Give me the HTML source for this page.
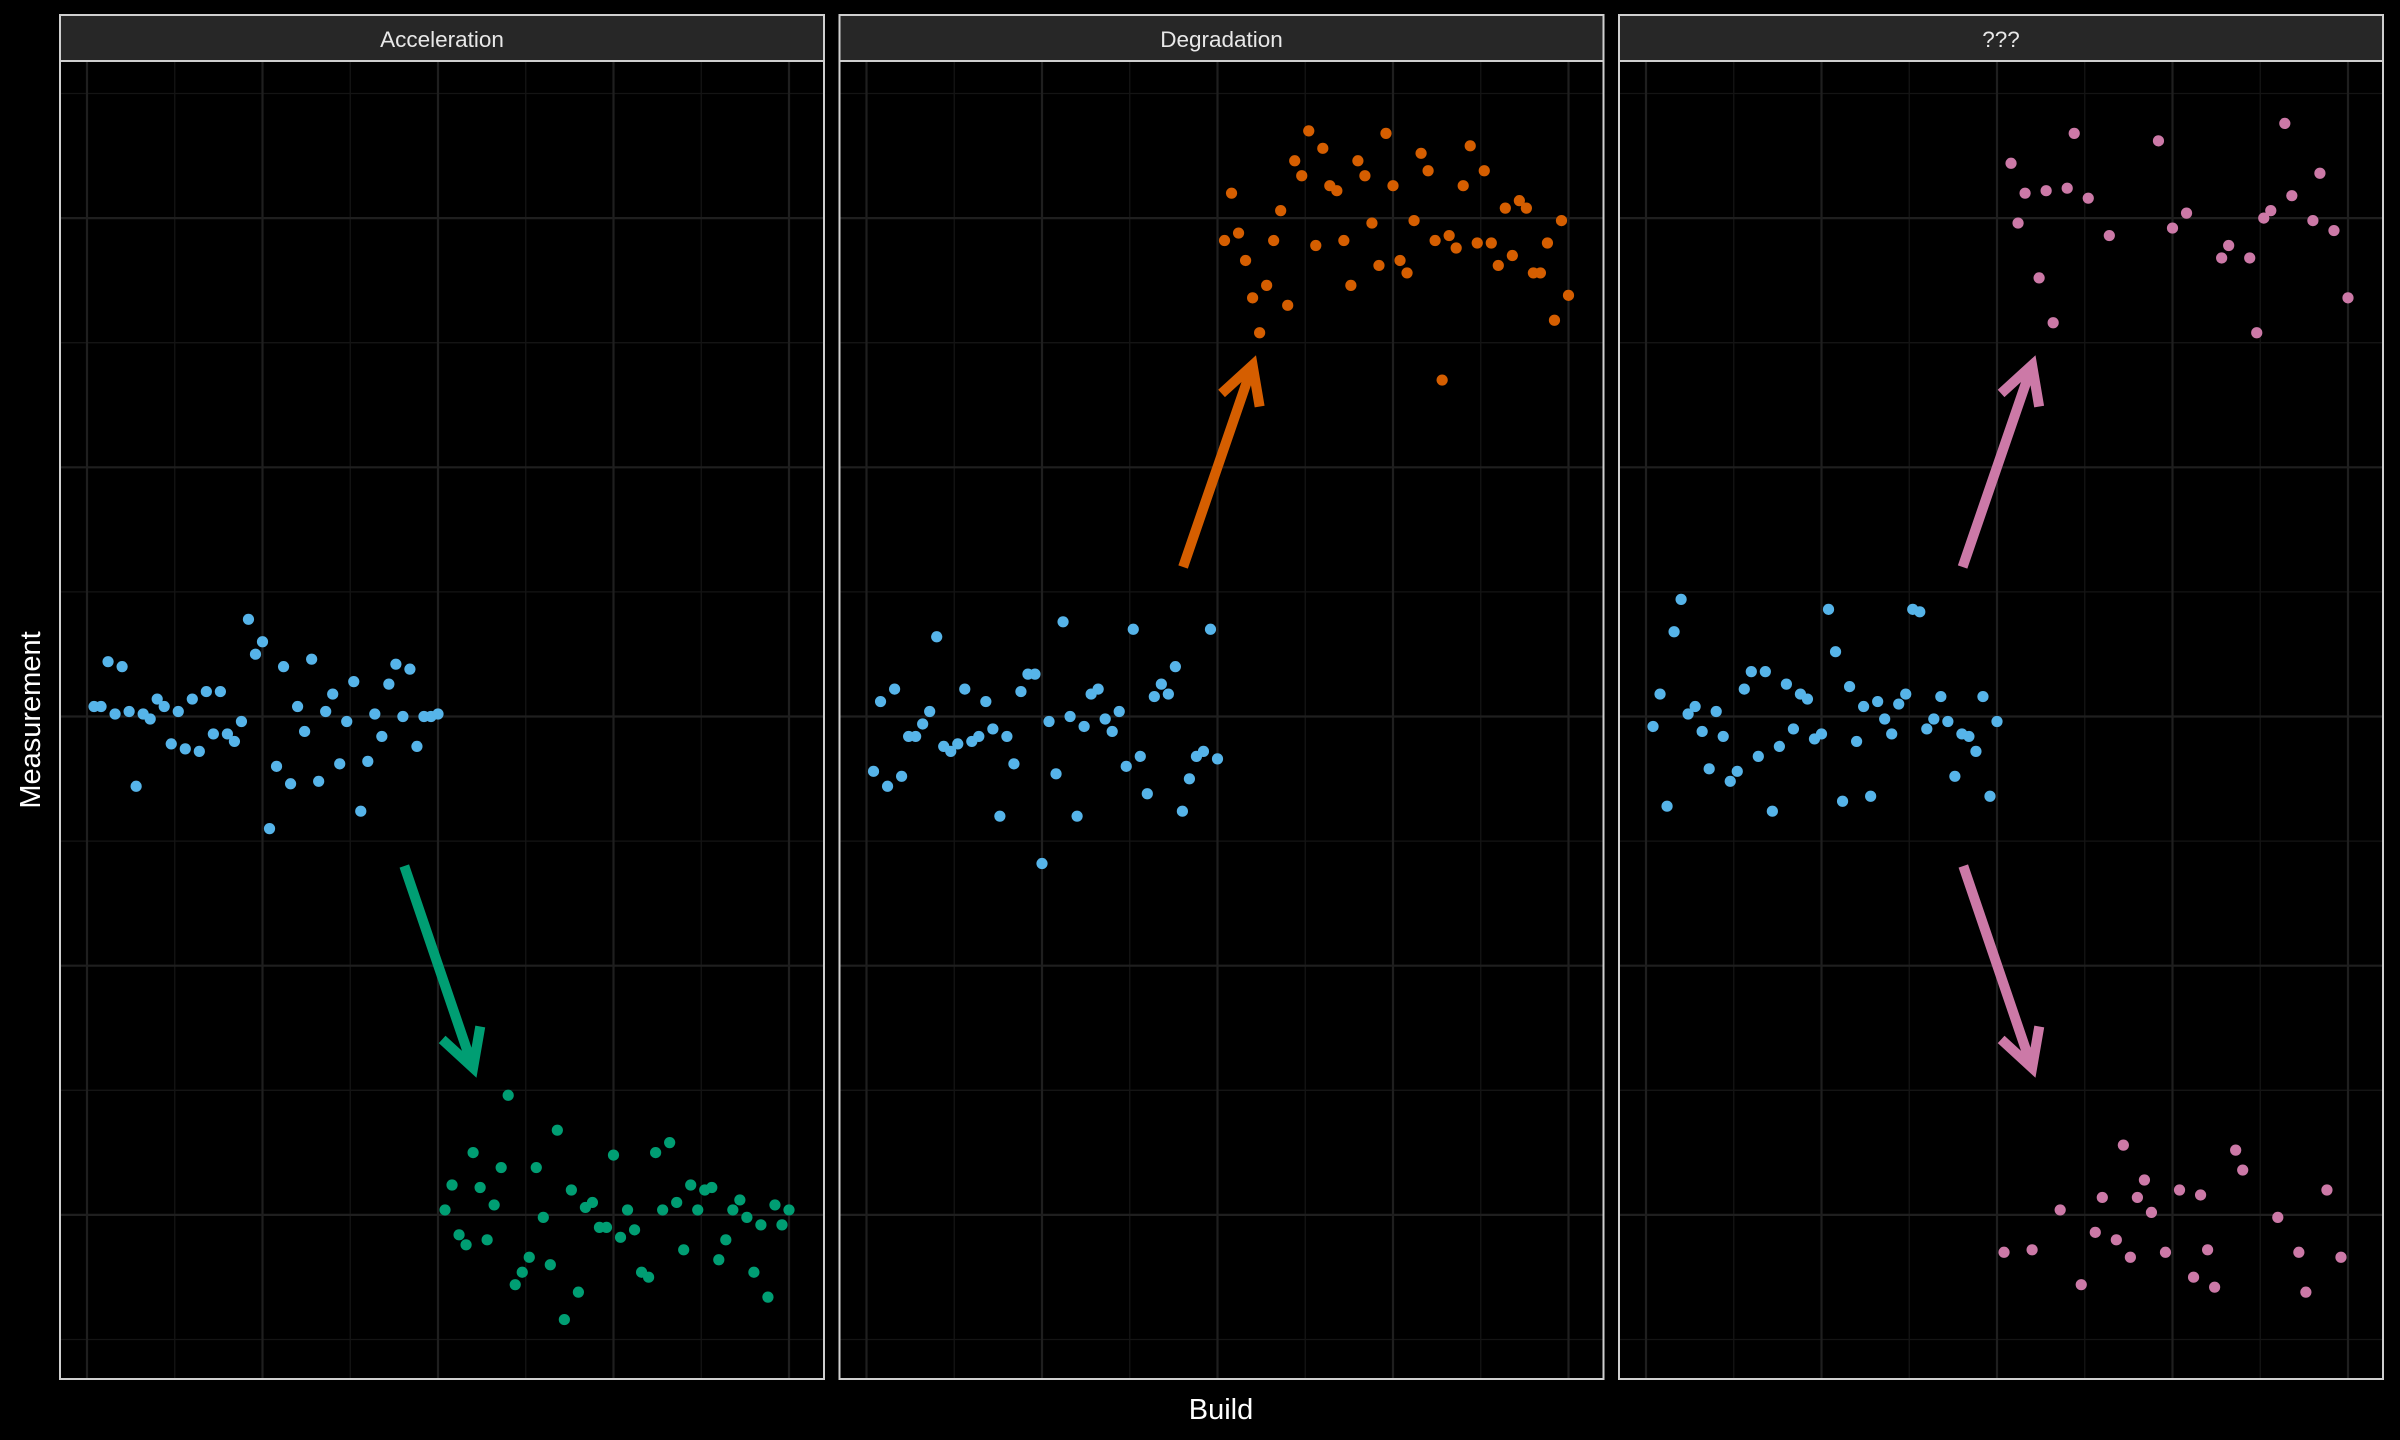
<!DOCTYPE html>
<html><head><meta charset="utf-8"><style>
html,body{margin:0;padding:0;background:#000;}
svg{display:block;}
text{font-family:"Liberation Sans",sans-serif;}
</style></head><body>
<svg id="chart" width="2400" height="1440" viewBox="0 0 2400 1440">
<rect x="0" y="0" width="2400" height="1440" fill="#000"/>
<text x="40" y="720" fill="#fff" font-size="29" text-anchor="middle" transform="rotate(-90 40 720)">Measurement</text>
<text x="1221" y="1419" fill="#fff" font-size="29" text-anchor="middle">Build</text>
</svg>
<script>
const panelTitles = ["Acceleration", "Degradation", "???"];
const blueAccel = [0.04,0.04,0.22,0.01,0.20,0.02,-0.28,0.01,-0.01,0.07,0.04,-0.11,0.02,-0.13,0.07,-0.14,0.10,-0.07,0.10,-0.07,-0.10,-0.02,0.39,0.25,0.30,-0.45,-0.20,0.20,-0.27,0.04,-0.06,0.23,-0.26,0.02,0.09,-0.19,-0.02,0.14,-0.38,-0.18,0.01,-0.08,0.13,0.21,0.00,0.19,-0.12,0.00,0.00,0.01];
const greenAccel = [-1.98,-1.88,-2.08,-2.12,-1.75,-1.89,-2.10,-1.96,-1.81,-1.52,-2.28,-2.23,-2.17,-1.81,-2.01,-2.20,-1.66,-2.42,-1.90,-2.31,-1.97,-1.95,-2.05,-2.05,-1.76,-2.09,-1.98,-2.06,-2.23,-2.25,-1.75,-1.98,-1.71,-1.95,-2.14,-1.88,-1.98,-1.90,-1.89,-2.18,-2.10,-1.98,-1.94,-2.01,-2.23,-2.04,-2.33,-1.96,-2.04,-1.98];
const blueDegr = [-0.22,0.06,-0.28,0.11,-0.24,-0.08,-0.08,-0.03,0.02,0.32,-0.12,-0.14,-0.11,0.11,-0.10,-0.08,0.06,-0.05,-0.40,-0.08,-0.19,0.10,0.17,0.17,-0.59,-0.02,-0.23,0.38,0.00,-0.40,-0.04,0.09,0.11,-0.01,-0.06,0.02,-0.20,0.35,-0.16,-0.31,0.08,0.13,0.09,0.20,-0.38,-0.25,-0.16,-0.14,0.35,-0.17];
const orangeDegr = [1.91,2.10,1.94,1.83,1.68,1.54,1.73,1.91,2.03,1.65,2.23,2.17,2.35,1.89,2.28,2.13,2.11,1.91,1.73,2.23,2.17,1.98,1.81,2.34,2.13,1.83,1.78,1.99,2.26,2.19,1.91,1.35,1.93,1.88,2.13,2.29,1.90,2.19,1.90,1.81,2.04,1.85,2.07,2.04,1.78,1.78,1.90,1.59,1.99,1.69];
const blueUnk = [-0.04,0.09,-0.36,0.34,0.47,0.01,0.04,-0.06,-0.21,0.02,-0.08,-0.26,-0.22,0.11,0.18,-0.16,0.18,-0.38,-0.12,0.13,-0.05,0.09,0.07,-0.09,-0.07,0.43,0.26,-0.34,0.12,-0.10,0.04,-0.32,0.06,-0.01,-0.07,0.05,0.09,0.43,0.42,-0.05,-0.01,0.08,-0.02,-0.24,-0.07,-0.08,-0.14,0.08,-0.32,-0.02];
const pinkUpBuilds = [52,53,54,56,57,58,60,61,63,66,73,75,77,82,83,86,87,88,89,91,92,95,96,98,100];
const pinkUpValues = [2.22,1.98,2.10,1.76,2.11,1.58,2.12,2.34,2.08,1.93,2.31,1.96,2.02,1.84,1.89,1.84,1.54,2.00,2.03,2.38,2.09,1.99,2.18,1.95,1.68];
const pinkDownBuilds = [51,55,59,62,64,65,67,68,69,70,71,72,74,76,78,79,80,81,84,85,90,93,94,97,99];
const pinkDownValues = [-2.15,-2.14,-1.98,-2.28,-2.07,-1.93,-2.10,-1.72,-2.17,-1.93,-1.86,-1.99,-2.15,-1.90,-2.25,-1.92,-2.14,-2.29,-1.74,-1.82,-2.01,-2.15,-2.31,-1.90,-2.17];

const NS = "http://www.w3.org/2000/svg";
const svg = document.getElementById("chart");
const panelLeft = [60, 839.5, 1619];
const panelW = 764, plotTop = 61, plotBot = 1379, stripTop = 15;
function xScale(p, b) { return panelLeft[p] + 27 + b * 7.02; }
function yScale(v) { return 716.5 - v * 249.2; }
function mk(tag, attrs, parent) {
  const el = document.createElementNS(NS, tag);
  for (const k in attrs) el.setAttribute(k, attrs[k]);
  (parent || svg).appendChild(el);
  return el;
}
function seq(n, start) { const a = []; for (let i = 0; i < n; i++) a.push(start + i); return a; }

const colors = { blue: "#56B4E9", green: "#009E73", orange: "#D55E00", pink: "#CC79A7" };

function drawPanel(p) {
  const g = mk("g", {});
  
  
  const L = panelLeft[p];
  // minor grid
  [-2.5, -1.5, -0.5, 0.5, 1.5, 2.5].forEach(v => {
    const l = mk("line", { x1: L, x2: L + panelW, y1: yScale(v), y2: yScale(v), stroke: "#141414", "stroke-width": 1.3 }, g);
    
    
  });
  [12.5, 37.5, 62.5, 87.5].forEach(b => {
    const l = mk("line", { x1: xScale(p, b), x2: xScale(p, b), y1: plotTop, y2: plotBot, stroke: "#141414", "stroke-width": 1.3 }, g);
    
    
  });
  [-2, -1, 0, 1, 2].forEach(v => {
    const l = mk("line", { x1: L, x2: L + panelW, y1: yScale(v), y2: yScale(v), stroke: "#1f1f1f", "stroke-width": 2.2 }, g);
    
    
  });
  [0, 25, 50, 75, 100].forEach(b => {
    const l = mk("line", { x1: xScale(p, b), x2: xScale(p, b), y1: plotTop, y2: plotBot, stroke: "#1f1f1f", "stroke-width": 2.2 }, g);
    
    
  });
  const border = mk("rect", { x: L, y: plotTop, width: panelW, height: plotBot - plotTop, fill: "none", stroke: "#cfcfcf", "stroke-width": 2 }, g);
  
  
  const strip = mk("rect", { x: L, y: stripTop, width: panelW, height: plotTop - stripTop, fill: "#272727", stroke: "#cfcfcf", "stroke-width": 2 }, g);
  
  
  const t = mk("text", { x: L + panelW / 2, y: 47, fill: "#e8e8e8", "font-size": 22.5, "text-anchor": "middle" }, g);
  t.textContent = panelTitles[p];
  
  
  return g;
}
function drawPoints(p, builds, vals, color, name) {
  builds.forEach((b, i) => {
    const c = mk("circle", { cx: xScale(p, b), cy: yScale(vals[i]), r: 5.6, fill: color });
    
    
  });
}
function drawArrow(p, b0, v0, b1, v1, color) {
  const x0 = xScale(p, b0), y0 = yScale(v0), x1 = xScale(p, b1), y1 = yScale(v1);
  const ang = Math.atan2(y1 - y0, x1 - x0), len = 42, spread = 0.5;
  const a1x = x1 - len * Math.cos(ang - spread), a1y = y1 - len * Math.sin(ang - spread);
  const a2x = x1 - len * Math.cos(ang + spread), a2y = y1 - len * Math.sin(ang + spread);
  const path = mk("path", { d: `M${x0},${y0} L${x1},${y1} M${a1x},${a1y} L${x1},${y1} L${a2x},${a2y}`, stroke: color, "stroke-width": 10, fill: "none", "stroke-linejoin": "miter" });
  
  
}

[0, 1, 2].forEach(drawPanel);
drawPoints(0, seq(50, 1), blueAccel, colors.blue, 'baseline-point');
drawPoints(0, seq(50, 51), greenAccel, colors.green, 'accelerated-point');
drawPoints(1, seq(50, 1), blueDegr, colors.blue, 'baseline-point');
drawPoints(1, seq(50, 51), orangeDegr, colors.orange, 'degraded-point');
drawPoints(2, seq(50, 1), blueUnk, colors.blue, 'baseline-point');
drawPoints(2, pinkUpBuilds, pinkUpValues, colors.pink, 'unknown-high-point');
drawPoints(2, pinkDownBuilds, pinkDownValues, colors.pink, 'unknown-low-point');
drawArrow(0, 45.2, -0.6, 55.0, -1.41, colors.green);
drawArrow(1, 45.1, 0.6, 55.0, 1.41, colors.orange);
drawArrow(2, 45.1, 0.6, 55.0, 1.41, colors.pink);
drawArrow(2, 45.2, -0.6, 55.0, -1.41, colors.pink);
</script>
</body></html>
